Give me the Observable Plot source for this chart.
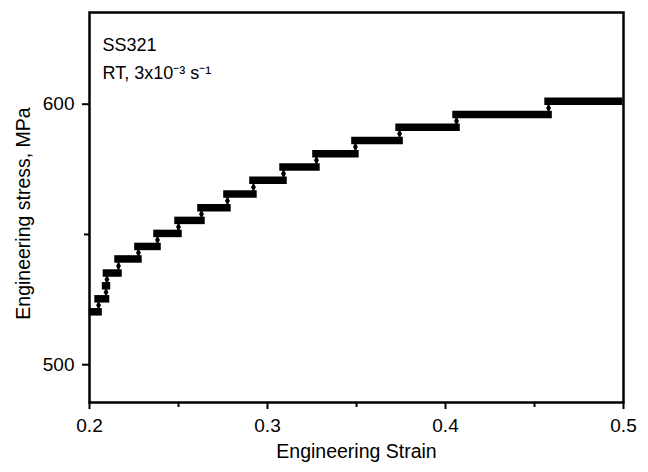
<!DOCTYPE html>
<html>
<head>
<meta charset="utf-8">
<script src="https://cdn.jsdelivr.net/npm/d3@7"></script>
<script src="https://cdn.jsdelivr.net/npm/@observablehq/plot@0.6"></script>
<style>
  html, body { margin: 0; padding: 0; background: #fff; }
</style>
</head>
<body>
<div id="chart"></div>
<script>
// ---- data ----
const stepLevels = [520.3, 525.3, 530.3, 535.2, 540.6, 545.4, 550.4, 555.4, 560.3, 565.5, 570.8, 575.9, 581.0, 586.1, 591.2, 596.0, 601.1];
const stepStart  = [0.2020, 0.2051, 0.2093, 0.2098, 0.2163, 0.2275, 0.2382, 0.2500, 0.2629, 0.2775, 0.2921, 0.3090, 0.3275, 0.3494, 0.3742, 0.4062, 0.4579];
const lastEnd = 0.4975;
const xMajorTicks = [0.2, 0.3, 0.4, 0.5];
const xMinorTicks = [0.25, 0.35, 0.45];
const yMajorTicks = [500, 600];
const yMinorTicks = [550];
const xLabel = "Engineering Strain";
const yLabel = "Engineering stress, MPa";
const noteLine1 = "SS321";
const noteLine2 = "RT, 3x10\u207B\u00B3 s\u207B\u00B9";

// ---- layout ----
const W = 648, H = 472;
const mL = 89, mR = 25, mT = 12, mB = 70;
const xDomain = [0.2, 0.5];
const yDomain = [485.5, 635.2];
const xPerPx = (xDomain[1] - xDomain[0]) / (W - mL - mR);
const yPerPx = (yDomain[1] - yDomain[0]) / (H - mT - mB);

const steps = stepLevels.map((lv, i) => ({
  level: lv,
  x1: stepStart[i],
  x2: i + 1 < stepStart.length ? stepStart[i + 1] : lastEnd
}));
const connectors = stepLevels.slice(1).map((lv, i) => ({
  x: stepStart[i + 1],
  y1: stepLevels[i],
  y2: lv,
  ym: (stepLevels[i] + lv) / 2
}));

const xTicks = [...xMajorTicks.map(v => ({v, len: 7})), ...xMinorTicks.map(v => ({v, len: 5}))];
const yTicks = [...yMajorTicks.map(v => ({v, len: 7})), ...yMinorTicks.map(v => ({v, len: 5}))];

const chart = Plot.plot({
  width: W,
  height: H,
  marginLeft: mL,
  marginRight: mR,
  marginTop: mT,
  marginBottom: mB,
  x: {domain: xDomain, axis: null},
  y: {domain: yDomain, axis: null},
  style: {
    fontFamily: "'Liberation Sans', Arial, sans-serif",
    fontSize: "18px",
    background: "white",
    color: "black"
  },
  marks: [
    // step bars
    Plot.ruleY(steps, {y: "level", x1: "x1", x2: "x2", stroke: "black", strokeWidth: 7.5, strokeLinecap: "square"}),
    // connectors between steps
    Plot.ruleX(connectors, {x: "x", y1: "y1", y2: "y2", stroke: "black", strokeWidth: 1.6}),
    Plot.dot(connectors, {x: "x", y: "ym", symbol: "diamond", r: 2.6, fill: "black", stroke: "none"}),
    // ticks
    Plot.ruleX(xTicks, {x: "v", y1: yDomain[0], y2: d => yDomain[0] - d.len * yPerPx, stroke: "black", strokeWidth: 2}),
    Plot.ruleY(yTicks, {y: "v", x1: xDomain[0], x2: d => xDomain[0] - d.len * xPerPx, stroke: "black", strokeWidth: 2}),
    // tick labels
    Plot.text(xMajorTicks, {x: d => d, y: yDomain[0], dy: 23, text: d => d.toFixed(1), fontSize: 19, fill: "black"}),
    Plot.text(yMajorTicks, {x: xDomain[0], y: d => d, dx: -15, textAnchor: "end", text: d => String(d), fontSize: 19, fill: "black"}),
    // axis titles
    Plot.text([xLabel], {frameAnchor: "bottom", dy: 55, textAnchor: "middle", text: d => d, fontSize: 19.5, fill: "black"}),
    Plot.text([yLabel], {frameAnchor: "left", dx: -66, dy: 6, rotate: -90, textAnchor: "middle", text: d => d, fontSize: 19.5, fill: "black"}),
    // annotation
    Plot.text([noteLine1], {frameAnchor: "top-left", dx: 13, dy: 26, textAnchor: "start", text: d => d, fontSize: 18, fill: "black"}),
    Plot.text([noteLine2], {frameAnchor: "top-left", dx: 13, dy: 54, textAnchor: "start", text: d => d, fontSize: 18, fill: "black"}),
    // frame
    Plot.frame({stroke: "black", strokeWidth: 2.5})
  ]
});
document.getElementById("chart").appendChild(chart);
</script>
</body>
</html>
